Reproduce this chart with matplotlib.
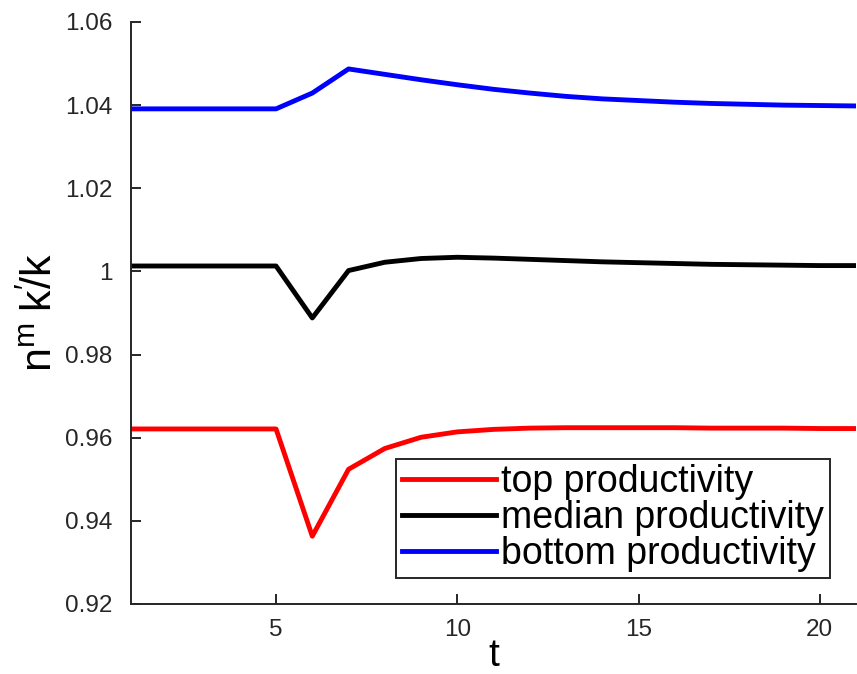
import matplotlib.pyplot as plt

plt.rcParams['font.family'] = ['Liberation Sans', 'DejaVu Sans']
plt.rcParams['mathtext.fontset'] = 'custom'
plt.rcParams['mathtext.rm'] = 'Liberation Sans'
plt.rcParams['mathtext.it'] = 'Liberation Sans'

# periods
t = list(range(1, 22))

# n^m k'/k by productivity group
top = [0.9621, 0.9621, 0.9621, 0.9621, 0.9621, 0.9363, 0.9524, 0.9574, 0.9601,
       0.9614, 0.9620, 0.9623, 0.9624, 0.9624, 0.9624, 0.9624, 0.9623, 0.9623,
       0.9623, 0.9622, 0.9622]
median = [1.0013, 1.0013, 1.0013, 1.0013, 1.0013, 0.9888, 1.0002, 1.0022, 1.0031,
          1.0034, 1.0032, 1.0029, 1.0026, 1.0023, 1.0021, 1.0019, 1.0017, 1.0016,
          1.0015, 1.0014, 1.0014]
bottom = [1.0391, 1.0391, 1.0391, 1.0391, 1.0391, 1.0429, 1.0487, 1.0474, 1.0461,
          1.0449, 1.0438, 1.0429, 1.0421, 1.0415, 1.0411, 1.0407, 1.0404, 1.0402,
          1.0400, 1.0399, 1.0398]

labels = ['top productivity', 'median productivity', 'bottom productivity']
colors = ['#ff0000', '#000000', '#0000ff']

fig = plt.figure(figsize=(8.57, 6.74), dpi=100)
ax = fig.add_axes([0.1529, 0.1039, 0.846, 0.8635])

for y, lab, c in zip([top, median, bottom], labels, colors):
    ax.plot(t, y, color=c, linewidth=3.5, label=lab)

ax.set_xlim(1, 21)
ax.set_ylim(0.92, 1.06)
ax.set_xticks([5, 10, 15, 20])
yt = [0.92, 0.94, 0.96, 0.98, 1.00, 1.02, 1.04, 1.06]
ax.set_yticks(yt)
ax.set_yticklabels(['%g' % v for v in yt])

for s in ['top', 'right']:
    ax.spines[s].set_visible(False)
for s in ['left', 'bottom']:
    ax.spines[s].set_color('#262626')
    ax.spines[s].set_linewidth(1.4)
ax.tick_params(direction='in', length=7, width=1.4, color='#262626',
               labelsize=17.5, labelcolor='#262626')
ax.tick_params(axis='y', pad=13.5)
ax.tick_params(axis='x', pad=10.5)

ax.set_xlabel('t', fontsize=28, labelpad=-2)
ax.set_ylabel(r"$\mathrm{n^m\;k'\!/k}$", fontsize=31, labelpad=3)

leg = ax.legend(loc='lower right', bbox_to_anchor=(0.964, 0.0447),
                borderaxespad=0, fontsize=27, fancybox=False,
                edgecolor='#262626', handlelength=2.5, handletextpad=0.15,
                labelspacing=0.0, borderpad=0.15, framealpha=1)
leg.get_frame().set_linewidth(1.4)

fig.savefig('out.png', dpi=100)
